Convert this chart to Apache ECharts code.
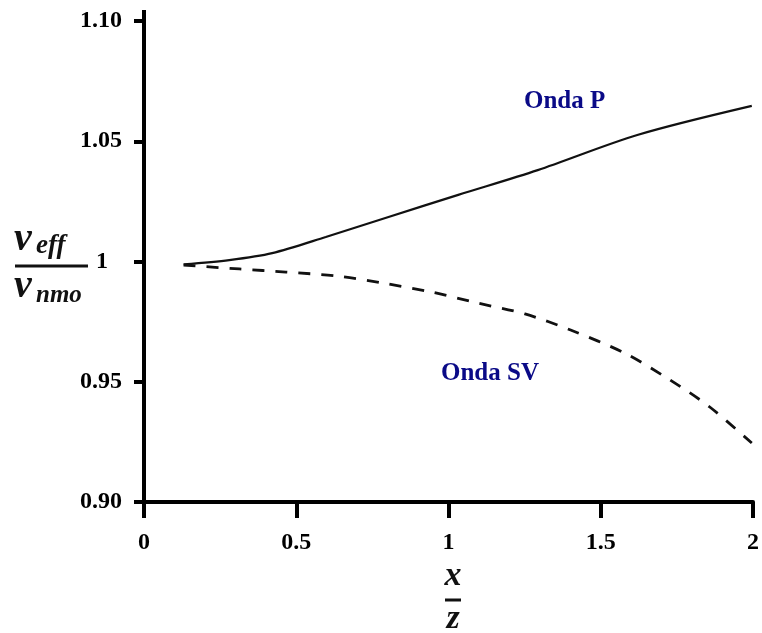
<!DOCTYPE html>
<html>
<head>
<meta charset="utf-8">
<script src="https://cdn.jsdelivr.net/npm/echarts@6/dist/echarts.min.js"></script>
<style>html,body{margin:0;padding:0;background:#fff}#c{width:762px;height:633px}</style>
</head>
<body>
<div id="c"></div>
<script>
var xTicks = [0, 0.5, 1, 1.5, 2];
var yTicks = [0.90, 0.95, 1, 1.05, 1.10];
var pX = [0.130, 0.280, 0.421, 0.597, 0.803, 1.032, 1.293, 1.620, 1.996];
var pY = [0.9988, 1.0006, 1.0035, 1.0102, 1.0185, 1.0277, 1.0380, 1.0526, 1.0647];
var svX = [0.130, 0.313, 0.466, 0.630, 0.780, 0.944, 1.097, 1.251, 1.401, 1.577, 1.728, 1.858, 1.996];
var svY = [0.9985, 0.9969, 0.9956, 0.9940, 0.9911, 0.9873, 0.9827, 0.9782, 0.9715, 0.9620, 0.9507, 0.9395, 0.9245];
var labelP = 'Onda P';
var labelSV = 'Onda SV';

function pairs(xs, ys) { return xs.map(function (x, i) { return [x, ys[i]]; }); }

var serif = '"Liberation Serif", "Times New Roman", serif';
var navy = '#0a0a87';
var ink = '#111';
var chart = echarts.init(document.getElementById('c'));
chart.setOption({
  backgroundColor: '#fff',
  animation: false,
  grid: { left: 144, right: 5, top: 21, bottom: 131 },
  xAxis: {
    type: 'value', min: xTicks[0], max: xTicks[xTicks.length - 1], interval: 0.5,
    splitLine: { show: false },
    axisLine: { lineStyle: { color: '#000', width: 4 } },
    axisTick: { inside: false, length: 16, lineStyle: { color: '#000', width: 4 } },
    axisLabel: { margin: 29, color: '#000', fontFamily: serif, fontWeight: 'bold', fontSize: 24,
      formatter: function (v) { return String(v); } }
  },
  yAxis: {
    type: 'value', min: yTicks[0], max: yTicks[yTicks.length - 1], interval: 0.05,
    splitLine: { show: false },
    axisLine: { onZero: false, lineStyle: { color: '#000', width: 4 } },
    axisTick: { length: 10, lineStyle: { color: '#000', width: 4 } },
    axisLabel: { margin: 22, color: '#000', fontFamily: serif, fontWeight: 'bold', fontSize: 24,
      formatter: function (v) { return Math.abs(v - 1) < 1e-9 ? '{one|1}' : v.toFixed(2); },
      rich: { one: { fontFamily: serif, fontWeight: 'bold', fontSize: 24, color: '#000', padding: [0, 14, 0, 0] } } }
  },
  series: [
    { type: 'line', data: pairs(pX, pY), smooth: 0.3, showSymbol: false,
      lineStyle: { color: ink, width: 2.2 } },
    { type: 'line', data: pairs(svX, svY), smooth: 0.3, showSymbol: false,
      lineStyle: { color: ink, width: 2.8, type: [12, 11] } }
  ],
  graphic: [
    { type: 'text', left: 524, top: 89, style: { text: labelP, font: 'bold 25px ' + serif, fill: navy } },
    { type: 'text', left: 441, top: 361, style: { text: labelSV, font: 'bold 25px ' + serif, fill: navy } },
    { type: 'line', shape: { x1: 15, y1: 266, x2: 88, y2: 266 }, style: { stroke: ink, lineWidth: 3 } },
    { type: 'text', x: 14, y: 240, style: { text: 'v', font: 'italic bold 40px ' + serif, fill: ink, verticalAlign: 'middle' } },
    { type: 'text', x: 36, y: 246, style: { text: 'eff', font: 'italic bold 27px ' + serif, fill: ink, verticalAlign: 'middle' } },
    { type: 'text', x: 14, y: 287, style: { text: 'v', font: 'italic bold 40px ' + serif, fill: ink, verticalAlign: 'middle' } },
    { type: 'text', x: 36, y: 296, style: { text: 'nmo', font: 'italic bold 25px ' + serif, fill: ink, verticalAlign: 'middle' } },
    { type: 'text', x: 453, y: 576, style: { text: 'x', font: 'italic bold 34px ' + serif, fill: ink, align: 'center', verticalAlign: 'middle' } },
    { type: 'line', shape: { x1: 445, y1: 600, x2: 461, y2: 600 }, style: { stroke: ink, lineWidth: 3 } },
    { type: 'text', x: 453, y: 619, style: { text: 'z', font: 'italic bold 34px ' + serif, fill: ink, align: 'center', verticalAlign: 'middle' } },
    { type: 'line', shape: { x1: 144, y1: 10, x2: 144, y2: 22 }, style: { stroke: '#000', lineWidth: 4 } }
  ]
});
</script>
</body>
</html>
